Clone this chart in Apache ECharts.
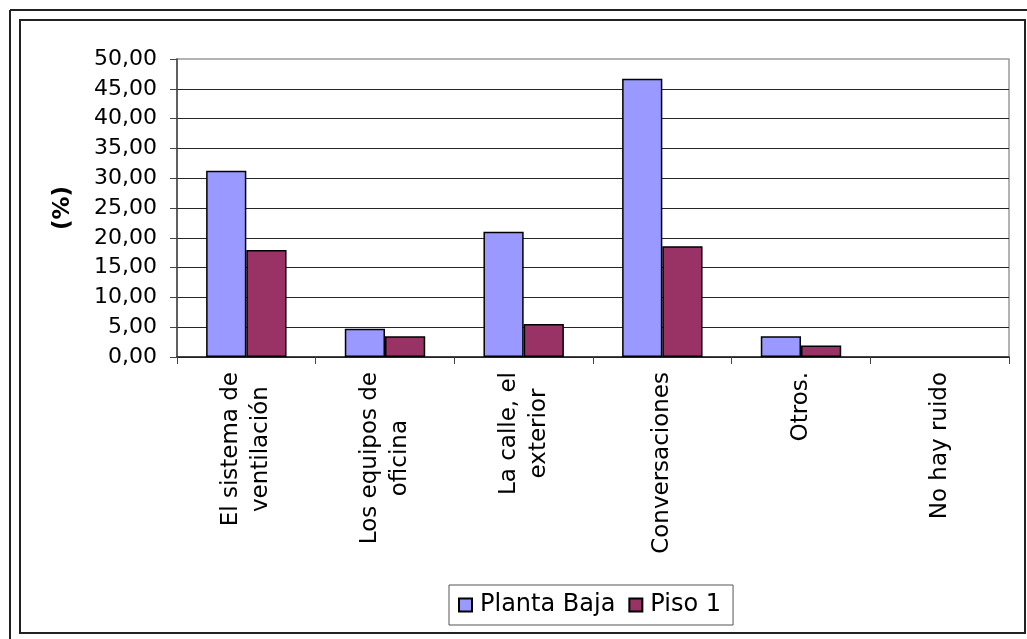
<!DOCTYPE html>
<html>
<head>
<meta charset="utf-8">
<script src="https://cdn.jsdelivr.net/npm/echarts@6/dist/echarts.min.js"></script>
<style>
  html, body { margin: 0; padding: 0; background: #fff; }
  #chart { width: 1027px; height: 639px; }
</style>
</head>
<body>
<div id="chart"></div>
<script>
// Noise sources reported, percentages by floor
const categories = [
  'El sistema de\nventilación',
  'Los equipos de\noficina',
  'La calle, el\nexterior',
  'Conversaciones',
  'Otros.',
  'No hay ruido'
];
const seriesNames = ['Planta Baja', 'Piso 1'];
const plantaBaja = [31.25, 4.75, 21.0, 46.7, 3.5, 0];
const piso1 = [17.95, 3.5, 5.55, 18.6, 1.95, 0];
const yMin = 0, yMax = 50, yStep = 5;

const FONT = '"DejaVu Sans", Verdana, sans-serif';
const chart = echarts.init(document.getElementById('chart'));

// empty bars get no outline, so a zero value leaves no mark
const barItems = vals => vals.map(v => v === 0 ? { value: v, itemStyle: { borderWidth: 0 } } : v);

chart.setOption({
  animation: false,
  backgroundColor: '#fff',
  grid: {
    left: 177, top: 59, right: 18, bottom: 282,
    show: true, borderColor: '#9a9a9a', borderWidth: 1.5
  },
  legend: {
    data: seriesNames,
    left: 449, top: 585,
    padding: [8, 12, 8, 9],
    itemWidth: 13, itemHeight: 13, itemGap: 13,
    borderColor: '#555', borderWidth: 1,
    icon: 'rect',
    textStyle: { fontFamily: FONT, fontSize: 24, color: '#000', padding: [0, 0, 0, 3] }
  },
  xAxis: {
    type: 'category',
    data: categories,
    axisLine: { lineStyle: { color: '#222', width: 1.5 } },
    axisTick: { show: true, length: 7, lineStyle: { color: '#444' } },
    axisLabel: {
      rotate: 90, margin: 15, interval: 0,
      fontFamily: FONT, fontSize: 23, color: '#000',
      formatter: v => v.split('\n').map(s => '{c|' + s + '}').join('\n'),
      rich: { c: { align: 'center', fontFamily: FONT, fontSize: 23, lineHeight: 30, color: '#000' } }
    }
  },
  yAxis: {
    type: 'value',
    min: yMin, max: yMax, interval: yStep,
    name: '(%)', nameLocation: 'middle', nameRotate: 90, nameGap: 102,
    nameTextStyle: { fontFamily: FONT, fontSize: 23, fontWeight: 'bold', color: '#000' },
    axisLine: { show: true, lineStyle: { color: '#444', width: 1.5 } },
    axisTick: { show: true, length: 7, lineStyle: { color: '#444' } },
    splitLine: { show: true, showMaxLine: false, lineStyle: { color: '#262626', width: 1 } },
    axisLabel: {
      margin: 20, fontFamily: FONT, fontSize: 22, color: '#000',
      formatter: v => v.toFixed(2).replace('.', ',')
    }
  },
  series: [
    {
      name: seriesNames[0], type: 'bar', data: barItems(plantaBaja),
      barGap: '0%', barCategoryGap: '42%',
      itemStyle: { color: '#9999ff', borderColor: '#000', borderWidth: 1.5 }
    },
    {
      name: seriesNames[1], type: 'bar', data: barItems(piso1),
      itemStyle: { color: '#993366', borderColor: '#000', borderWidth: 1.5 }
    }
  ],
  graphic: [
    // outer chart frame
    { type: 'rect', shape: { x: 20, y: 20, width: 1005, height: 613 },
      style: { fill: 'none', stroke: '#222', lineWidth: 2 }, silent: true },
    { type: 'line', shape: { x1: 10, y1: 10, x2: 1027, y2: 10 },
      style: { stroke: '#222', lineWidth: 2 }, silent: true },
    { type: 'line', shape: { x1: 10, y1: 10, x2: 10, y2: 639 },
      style: { stroke: '#222', lineWidth: 2 }, silent: true }
  ]
});
</script>
</body>
</html>
